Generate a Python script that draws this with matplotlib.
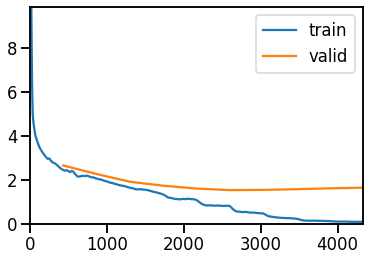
import matplotlib
matplotlib.use("Agg")
import matplotlib.pyplot as plt
import seaborn as sns

# training loss (iteration, value)
train_iter = [0, 10, 17, 22, 26, 30, 35, 45, 55, 65, 80, 100, 121, 145, 170, 190, 208, 230,
              250, 270, 294, 310, 330, 350, 370, 390, 410, 430, 450, 476, 500, 520, 541, 563,
              590, 610, 628, 650, 680, 714, 740, 770, 800, 822, 850, 880, 909, 940, 970, 996,
              1030, 1060, 1082, 1110, 1140, 1170, 1200, 1240, 1277, 1310, 1340, 1370, 1400,
              1440, 1480, 1515, 1550, 1580, 1610, 1650, 1690, 1720, 1750, 1780, 1800, 1840,
              1880, 1920, 1950, 1990, 2030, 2060, 2100, 2140, 2165, 2200, 2240, 2273, 2310,
              2350, 2400, 2450, 2500, 2560, 2597, 2620, 2650, 2684, 2720, 2760, 2800, 2857,
              2900, 2950, 2987, 3030, 3060, 3095, 3140, 3204, 3260, 3320, 3400, 3463, 3510,
              3550, 3620, 3700, 3800, 3900, 3939, 4000, 4100, 4200, 4330]
train_loss = [12.0, 10.5, 9.9, 8.0, 6.6, 5.8, 5.0, 4.6, 4.35, 4.1, 3.9, 3.7, 3.5, 3.35,
              3.22, 3.12, 3.04, 2.96, 2.98, 2.88, 2.80, 2.78, 2.74, 2.68, 2.62, 2.55, 2.50,
              2.46, 2.42, 2.45, 2.40, 2.36, 2.41, 2.38, 2.26, 2.18, 2.15, 2.16, 2.19, 2.18,
              2.20, 2.16, 2.12, 2.12, 2.08, 2.05, 2.03, 2.00, 1.96, 1.94, 1.89, 1.87, 1.85,
              1.82, 1.79, 1.76, 1.74, 1.71, 1.67, 1.64, 1.62, 1.58, 1.57, 1.58, 1.56, 1.55,
              1.52, 1.49, 1.46, 1.43, 1.39, 1.36, 1.31, 1.24, 1.20, 1.18, 1.14, 1.13, 1.12,
              1.14, 1.13, 1.15, 1.13, 1.12, 1.09, 1.00, 0.90, 0.86, 0.84, 0.85, 0.83, 0.84,
              0.82, 0.83, 0.82, 0.74, 0.64, 0.57, 0.56, 0.54, 0.55, 0.52, 0.52, 0.50, 0.49,
              0.48, 0.43, 0.36, 0.33, 0.30, 0.28, 0.27, 0.26, 0.24, 0.20, 0.16, 0.15, 0.15,
              0.14, 0.13, 0.12, 0.11, 0.11, 0.10, 0.10]

# validation loss, one point per epoch
valid_iter = [433, 866, 1299, 1732, 2165, 2598, 3031, 3464, 3897, 4330]
valid_loss = [2.66, 2.27, 1.92, 1.74, 1.61, 1.54, 1.55, 1.58, 1.62, 1.65]

sns.set_context("talk")

fig, ax = plt.subplots(figsize=(372 / 72, 259 / 72), dpi=72)
fig.subplots_adjust(left=30 / 372, right=363 / 372, top=1 - 7 / 259, bottom=1 - 224 / 259)

ax.plot(train_iter, train_loss, label="train")
ax.plot(valid_iter, valid_loss, label="valid")
ax.set_xlim(0, 4330)
ax.set_ylim(0, 9.86)
ax.set_yticks([0, 2, 4, 6, 8])
ax.set_xticks([0, 1000, 2000, 3000, 4000])
ax.legend(loc="upper right")

fig.savefig("out.png", dpi=72)
